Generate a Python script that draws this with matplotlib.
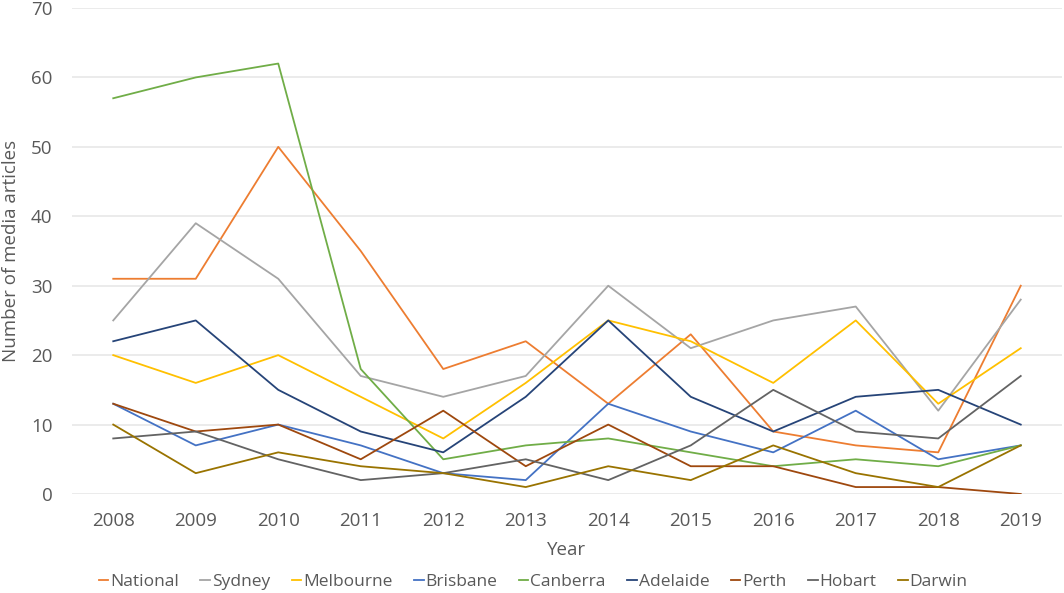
import matplotlib
matplotlib.use("Agg")
import matplotlib.pyplot as plt

years = ["2008", "2009", "2010", "2011", "2012", "2013", "2014", "2015", "2016", "2017", "2018", "2019"]
national  = [31, 31, 50, 35, 18, 22, 13, 23, 9, 7, 6, 30]
sydney    = [25, 39, 31, 17, 14, 17, 30, 21, 25, 27, 12, 28]
melbourne = [20, 16, 20, 14, 8, 16, 25, 22, 16, 25, 13, 21]
brisbane  = [13, 7, 10, 7, 3, 2, 13, 9, 6, 12, 5, 7]
canberra  = [57, 60, 62, 18, 5, 7, 8, 6, 4, 5, 4, 7]
adelaide  = [22, 25, 15, 9, 6, 14, 25, 14, 9, 14, 15, 10]
perth     = [13, 9, 10, 5, 12, 4, 10, 4, 4, 1, 1, 0]
hobart    = [8, 9, 5, 2, 3, 5, 2, 7, 15, 9, 8, 17]
darwin    = [10, 3, 6, 4, 3, 1, 4, 2, 7, 3, 1, 7]

series = [
    ("National", national, "#ED7D31"),
    ("Sydney", sydney, "#A5A5A5"),
    ("Melbourne", melbourne, "#FFC000"),
    ("Brisbane", brisbane, "#4472C4"),
    ("Canberra", canberra, "#70AD47"),
    ("Adelaide", adelaide, "#264478"),
    ("Perth", perth, "#9E480E"),
    ("Hobart", hobart, "#636363"),
    ("Darwin", darwin, "#997300"),
]

plt.rcParams['font.family'] = ['Open Sans', 'DejaVu Sans']
fig = plt.figure(figsize=(10.64, 5.93), dpi=100)
ax = fig.add_axes([72/1064, 1-494/593, (1062-72)/1064, (494-8)/593])
x = list(range(len(years)))
for name, vals, col in series:
    ax.plot(x, vals, color=col, lw=1.3, label=name)

ax.set_xlim(-0.5, len(years)-0.5)
ax.set_ylim(0, 70)
ax.set_yticks(range(0, 71, 10))
ax.set_xticks(x)
ax.set_xticklabels(years)
ax.grid(axis='y', color='#E6E6E6', lw=1.1)
ax.set_axisbelow(True)
for s in ax.spines.values():
    s.set_visible(False)
ax.tick_params(axis='x', length=0, labelsize=13.5, colors='#595959', pad=13)
ax.tick_params(axis='y', length=0, labelsize=13.5, colors='#595959', pad=14)
ax.set_xlabel("Year", fontsize=13.5, color='#595959', labelpad=8)
ax.set_ylabel("Number of media articles", fontsize=13.5, color='#595959', labelpad=8)
leg = ax.legend(loc='center', bbox_to_anchor=((533-72)/990, (494-582)/486), ncol=9, frameon=False,
                fontsize=12.5, handlelength=0.55, handletextpad=0.1, columnspacing=1.25)
for t in leg.get_texts():
    t.set_color('#595959')
fig.savefig("out.png", dpi=100)
